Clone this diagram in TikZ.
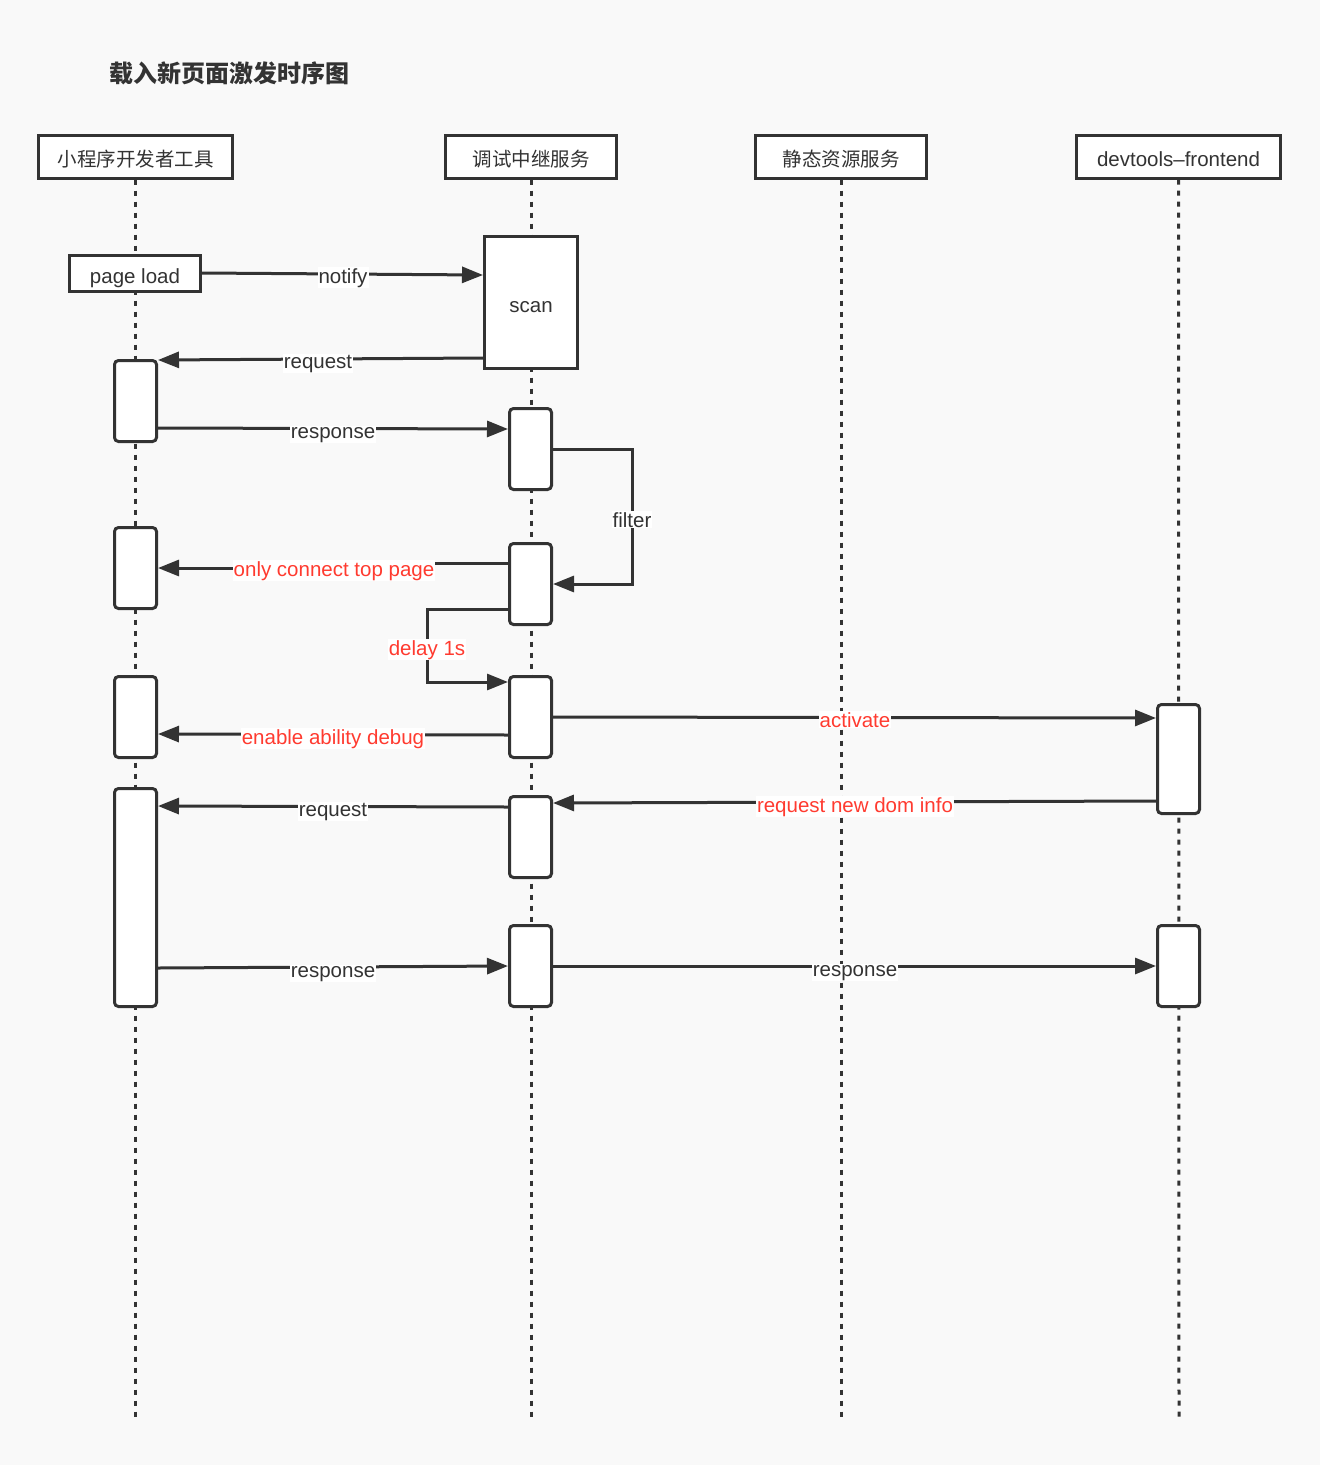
\documentclass[tikz,border=0pt]{standalone}
\usepackage{fontspec}
\setmainfont{Liberation Sans}
\newfontfamily\cjk{Noto Sans CJK SC}
\usetikzlibrary{arrows.meta}
\definecolor{ink}{HTML}{333333}
\definecolor{redtxt}{HTML}{FF3B30}
\definecolor{bg}{HTML}{F9F9F9}
\begin{document}
\begin{tikzpicture}[x=1pt,y=-1pt,
  every node/.style={font=\fontsize{20.5}{23}\selectfont, text=ink},
  header/.style={draw=ink, line width=3pt, fill=white, minimum height=43pt, inner sep=0pt, text height=19pt, text depth=0pt},
  cjkhead/.style={header, font=\cjk\fontsize{19.5}{22}\selectfont},
  plainbox/.style={draw=ink, line width=3pt, fill=white, inner sep=0pt, text height=19pt, text depth=0pt},
  act/.style={draw=ink, line width=3pt, fill=white, rounded corners=4pt, minimum width=42pt, inner sep=0pt},
  life/.style={draw=ink, line width=3pt, dash pattern=on 5pt off 6pt},
  msg/.style={draw=ink, line width=3pt, -{Triangle[length=21pt,width=16pt]}},
  lbl/.style={fill=white, inner sep=1pt, anchor=base},
  rlbl/.style={lbl, text=redtxt},
]
\fill[bg] (0,0) rectangle (1320,1465);
\useasboundingbox (0,0) rectangle (1320,1465);

% title
\node[font=\cjk\bfseries\fontsize{24}{26}\selectfont, anchor=base west, inner sep=0pt] (title) at (109,82) {载入新页面激发时序图};

% headers
\node[cjkhead, minimum width=194pt] (hA) at (135.5,156.5) {小程序开发者工具};
\node[cjkhead, minimum width=171pt] (hB) at (531,156.5) {调试中继服务};
\node[cjkhead, minimum width=171pt] (hC) at (841,156.5) {静态资源服务};
\node[header, minimum width=204pt] (hD) at (1178.5,156.5) {devtools–frontend};

% lifelines
\coordinate (eA) at (135.5,1422);
\coordinate (eB) at (531,1422);
\coordinate (eC) at (841,1422);
\coordinate (eD) at (1179,1422);
\draw[life] (hA.south) -- (eA);
\draw[life] (hB.south) -- (eB);
\draw[life] (hC.south) -- (eC);
\draw[life] (hD.south) -- (eD);

% boxes
\node[plainbox, minimum width=131pt, minimum height=36pt] (pl) at (135,273.5) {page load};
\node[plainbox, minimum width=93pt, minimum height=132pt] (scan) at (531,302.5) {scan};

\node[act, minimum height=81pt] (a1) at (135.5,401) {};
\node[act, minimum height=81pt] (b1) at (530.5,449) {};
\node[act, minimum height=81pt] (a2) at (135.5,568) {};
\node[act, minimum height=81pt] (b2) at (530.5,584) {};
\node[act, minimum height=81pt] (a3) at (135.5,717) {};
\node[act, minimum height=81pt] (b3) at (530.5,717) {};
\node[act, minimum height=109pt] (d1) at (1178.5,759) {};
\node[act, minimum height=218pt] (a4) at (135.5,897.5) {};
\node[act, minimum height=81pt] (b4) at (530.5,837) {};
\node[act, minimum height=81pt] (b5) at (530.5,966) {};
\node[act, minimum height=81pt] (d2) at (1178.5,966) {};

% messages
\draw[msg] (pl.east |- 0,273) -- (scan.west |- 0,275) node[lbl] at (343,283) {notify};
\draw[msg] (scan.west |- 0,358) -- (a1.east |- 0,360) node[lbl] at (318,368) {request};
\draw[msg] (a1.east |- 0,428) -- (b1.west |- 0,429) node[lbl] at (333,438) {response};
\draw[msg] (b1.east |- 0,449) -- (632,449) -- (632,584) -- (b2.east |- 0,584) node[lbl] at (632,527) {filter};
\draw[msg] (b2.west |- 0,563) -- (333,563) -- (333,568) -- (a2.east |- 0,568) node[rlbl] at (334,576) {only connect top page};
\draw[msg] (b2.west |- 0,609) -- (427,609) -- (427,682) -- (b3.west |- 0,682) node[rlbl] at (427,655) {delay 1s};
\draw[msg] (b3.west |- 0,735) -- (a3.east |- 0,734) node[rlbl] at (333,744) {enable ability debug};
\draw[msg] (b3.east |- 0,717) -- (d1.west |- 0,718) node[rlbl] at (855,727) {activate};
\draw[msg] (d1.west |- 0,801) -- (b4.east |- 0,803) node[rlbl] at (855,812) {request new dom info};
\draw[msg] (b4.west |- 0,807) -- (a4.east |- 0,806) node[lbl] at (333,816) {request};
\draw[msg] (a4.east |- 0,968) -- (b5.west |- 0,966) node[lbl] at (333,977) {response};
\draw[msg] (b5.east |- 0,966) -- (d2.west |- 0,966) node[lbl] at (855,976) {response};
\end{tikzpicture}
\end{document}
